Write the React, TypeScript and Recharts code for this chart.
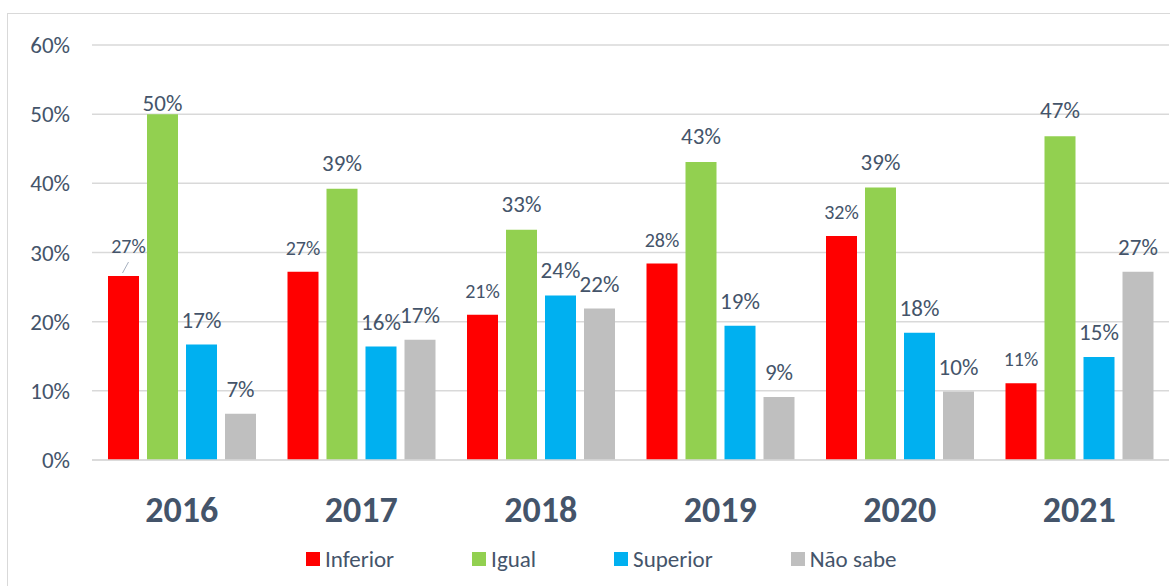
import React from 'react';
import {
	BarChart,
	Bar,
	XAxis,
	YAxis,
	CartesianGrid,
	Legend,
	LabelList,
} from 'recharts';

const years = ['2016', '2017', '2018', '2019', '2020', '2021'];
const inferior = [26.6, 27.2, 21.0, 28.4, 32.4, 11.1];
const igual = [50.0, 39.2, 33.3, 43.1, 39.4, 46.8];
const superior = [16.7, 16.4, 23.8, 19.4, 18.4, 14.9];
const naoSabe = [6.7, 17.4, 21.9, 9.1, 9.9, 27.2];
const yTicks = [0, 10, 20, 30, 40, 50, 60];

const data = years.map((year, i) => ({
	year,
	inferior: inferior[i],
	igual: igual[i],
	superior: superior[i],
	naoSabe: naoSabe[i],
}));

const FONT = 'Carlito, Lato, "Liberation Sans", sans-serif';
const TEXT = '#44546A';

const series = [
	{ key: 'inferior', name: 'Inferior', color: '#FF0000' },
	{ key: 'igual', name: 'Igual', color: '#92D050' },
	{ key: 'superior', name: 'Superior', color: '#00B0F0' },
	{ key: 'naoSabe', name: 'Não sabe', color: '#BFBFBF' },
];

// data labels, nudged roughly the way the original has them
function makeLabel(seriesKey: string) {
	return (props: any) => {
		const { x, y, width, value, index } = props;
		const cx = x + width / 2;
		const text = `${Math.round(value)}%`;
		if (seriesKey === 'inferior') {
			if (index === 0) {
				return (
					<g>
						<line x1={cx - 1} y1={y - 3} x2={cx + 5} y2={y - 14} stroke="#A6B0BF" strokeWidth={1} />
						<text x={cx + 5} y={y - 30} dy="0.35em" textAnchor="middle" fontSize={20} fill={TEXT} fontFamily={FONT}>
							{text}
						</text>
					</g>
				);
			}
			return (
				<text x={cx} y={y - 24} dy="0.35em" textAnchor="middle" fontSize={20} fill={TEXT} fontFamily={FONT}>
					{text}
				</text>
			);
		}
		const off = seriesKey === 'igual' ? 26 : 25;
		const cy = Math.max(y - off, 103);
		return (
			<text x={cx} y={cy} dy="0.35em" textAnchor="middle" fontSize={23} fill={TEXT} fontFamily={FONT}>
				{text}
			</text>
		);
	};
}

const YearTick = (props: any) => {
	const { x, payload } = props;
	return (
		<text x={x} y={509} dy="0.35em" textAnchor="middle" fontSize={36} fontWeight="bold" fill={TEXT} fontFamily={FONT}>
			{payload.value}
		</text>
	);
};

const LegendContent = () => (
	<div style={{ display: 'flex', justifyContent: 'flex-start', paddingLeft: 306, fontFamily: FONT }}>
		{series.map((s) => (
			<div key={s.key} style={{ display: 'flex', alignItems: 'center', marginRight: 78 }}>
				<span style={{ width: 14, height: 14, background: s.color, display: 'inline-block', marginRight: 5 }} />
				<span style={{ fontSize: 23, color: TEXT }}>{s.name}</span>
			</div>
		))}
	</div>
);

export default function App() {
	return (
		<div style={{ position: 'fixed', left: 0, top: 0, width: 1170, height: 586, background: '#fff' }}>
			<div
				style={{
					position: 'absolute',
					left: 7,
					top: 13,
					width: 1200,
					height: 600,
					borderLeft: '1px solid #D9D9D9',
					borderTop: '1px solid #D9D9D9',
				}}
			/>
			<BarChart
				width={1170}
				height={586}
				data={data}
				margin={{ top: 45, right: 1, bottom: 66, left: 0 }}
				barSize={31}
				barGap={8}
				style={{ position: 'absolute', left: 0, top: 0 }}
			>
				<CartesianGrid vertical={false} stroke="#D9D9D9" strokeWidth={1.5} />
				<XAxis
					dataKey="year"
					height={60}
					tickLine={false}
					axisLine={{ stroke: '#D9D9D9', strokeWidth: 1.5 }}
					tick={<YearTick />}
					interval={0}
				/>
				<YAxis
					width={92}
					domain={[0, 60]}
					ticks={yTicks}
					tickFormatter={(v: number) => `${v}%`}
					axisLine={false}
					tickLine={false}
					tickMargin={16}
					tick={{ fontSize: 23, fill: TEXT, fontFamily: FONT }}
				/>
				<Legend
					verticalAlign="middle"
					content={<LegendContent />}
					wrapperStyle={{ top: 545, left: 0, width: 1170 }}
				/>
				{series.map((s) => (
					<Bar key={s.key} dataKey={s.key} name={s.name} fill={s.color} isAnimationActive={false}>
						<LabelList dataKey={s.key} content={makeLabel(s.key)} />
					</Bar>
				))}
			</BarChart>
		</div>
	);
}
